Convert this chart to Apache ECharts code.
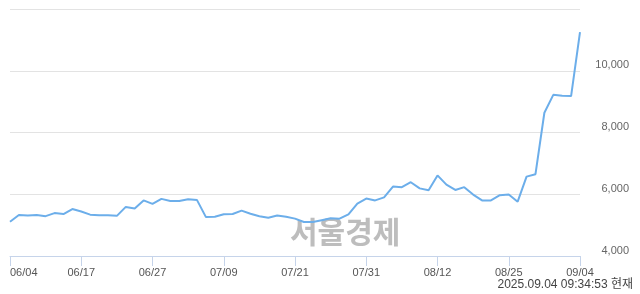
<!DOCTYPE html>
<html><head><meta charset="utf-8">
<script src="https://cdn.jsdelivr.net/npm/echarts@6/dist/echarts.min.js"></script>
<style>html,body{margin:0;padding:0;background:#fff}#c{width:640px;height:294px}</style>
</head><body><div id="c"></div>
<script>
const dates = ['06/04','06/05','06/09','06/10','06/11','06/12','06/13','06/16','06/17','06/18','06/19','06/20','06/23','06/24','06/25','06/26','06/27','06/30','07/01','07/02','07/03','07/04','07/07','07/08','07/09','07/10','07/11','07/14','07/15','07/16','07/17','07/18','07/21','07/22','07/23','07/24','07/25','07/28','07/29','07/30','07/31','08/01','08/04','08/05','08/06','08/07','08/08','08/11','08/12','08/13','08/14','08/18','08/19','08/20','08/21','08/22','08/25','08/26','08/27','08/28','08/29','09/01','09/02','09/03','09/04'];
const prices = [5110,5330,5310,5330,5290,5390,5360,5520,5440,5340,5320,5320,5300,5590,5540,5800,5690,5850,5780,5780,5840,5810,5260,5270,5350,5360,5470,5370,5290,5240,5310,5270,5210,5100,5100,5160,5220,5210,5350,5700,5860,5800,5900,6250,6230,6390,6190,6130,6610,6310,6140,6230,5990,5800,5800,5970,5990,5760,6570,6650,8640,9220,9190,9180,11250];
const yMin = 4000, yMax = 12000, yStep = 2000;
const watermark = '서울경제';
const stamp = '2025.09.04 09:34:53 현재';

const chart = echarts.init(document.getElementById('c'), null, {renderer:'canvas'});
chart.setOption({
  animation:false,
  grid:{left:10,right:60,top:9,bottom:38,containLabel:false},
  xAxis:{
    type:'category', data:dates, boundaryGap:false,
    axisLine:{lineStyle:{color:'#c6d4ea',width:1}},
    axisTick:{interval:7,length:10,lineStyle:{color:'#c6d4ea'}},
    axisLabel:{interval:7,color:'#555',fontSize:11,fontFamily:'Arial, Liberation Sans',margin:11,alignMinLabel:'left'},
    splitLine:{show:false}
  },
  yAxis:{
    type:'value', position:'right', min:yMin, max:yMax, interval:yStep,
    axisLine:{show:false}, axisTick:{show:false},
    axisLabel:{color:'#666',fontSize:11,fontFamily:'Arial, Liberation Sans',align:'right',margin:49,verticalAlign:'bottom',showMaxLabel:false,
      formatter:v=>v.toLocaleString('en-US')},
    splitLine:{lineStyle:{color:'#e3e3e3',width:1}}
  },
  graphic:[
    {type:'text',left:290,top:217,z:0,style:{text:watermark,font:'bold 30px "Noto Sans CJK KR"',fill:'#bdbdbd'}},
    {type:'text',right:7,top:279,z:0,style:{text:stamp,font:'12px Arial, "Noto Sans CJK KR"',fill:'#444'}}
  ],
  series:[{type:'line',data:prices,symbol:'none',z:5,lineStyle:{color:'#6caeea',width:2}}]
});
</script></body></html>
